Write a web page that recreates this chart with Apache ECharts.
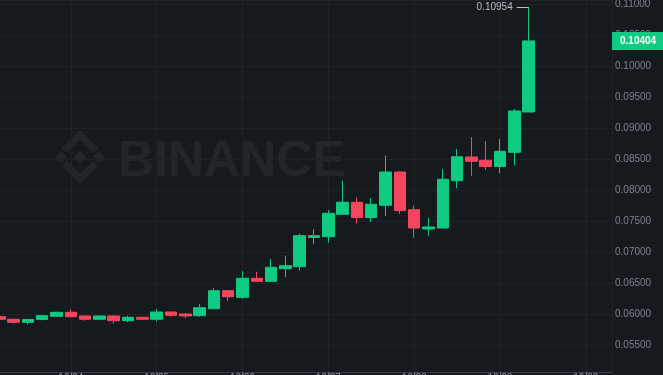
<!DOCTYPE html>
<html>
<head>
<meta charset="utf-8">
<script src="https://cdn.jsdelivr.net/npm/echarts@6/dist/echarts.min.js"></script>
<style>
html,body{margin:0;padding:0;background:#161a1e;}
#chart{width:663px;height:375px;}
</style>
</head>
<body>
<div id="chart"></div>
<script>
// candle positions (x index) and OHLC values
const xIndex = [1,2,3,4,5,6,7,8,9,10,11,12,13,14,15,16,17,18,19,20,21,22,23,24,25,26,27,28,29,30,31,32,33,34,35,36,37,38];
const opens  = [0.05957,0.05915,0.05866,0.05913,0.05963,0.06027,0.05968,0.05915,0.05968,0.05892,0.05947,0.05915,0.06032,0.06000,0.05973,0.06085,0.06376,0.06269,0.06576,0.06527,0.06731,0.06763,0.07234,0.07247,0.07608,0.07802,0.07556,0.07753,0.08290,0.07682,0.07371,0.07387,0.08150,0.08532,0.08479,0.08379,0.08608,0.09258];
const closes = [0.05915,0.05866,0.05912,0.05973,0.06027,0.05957,0.05915,0.05968,0.05892,0.05947,0.05915,0.06032,0.05979,0.05968,0.06102,0.06376,0.06279,0.06576,0.06527,0.06753,0.06779,0.07263,0.07263,0.07624,0.07802,0.07556,0.07770,0.08290,0.07667,0.07387,0.07403,0.08173,0.08537,0.08463,0.08379,0.08624,0.09274,0.10404];
const lows   = [0.05905,0.05844,0.05834,0.05898,0.05958,0.05947,0.05892,0.05910,0.05844,0.05871,0.05905,0.05882,0.05957,0.05931,0.05957,0.06080,0.06210,0.06242,0.06520,0.06520,0.06592,0.06698,0.07129,0.07150,0.07600,0.07456,0.07484,0.07581,0.07613,0.07229,0.07263,0.07376,0.08027,0.08230,0.08323,0.08269,0.08398,0.09258];
const highs  = [0.05965,0.05925,0.05920,0.05978,0.06035,0.06076,0.05972,0.05972,0.05972,0.05973,0.05952,0.06080,0.06036,0.06012,0.06161,0.06419,0.06380,0.06689,0.06682,0.06887,0.06940,0.07295,0.07366,0.07677,0.08150,0.07882,0.07871,0.08553,0.08300,0.07747,0.07548,0.08334,0.08661,0.08855,0.08790,0.08823,0.09306,0.10954];
const xTickLabels = ['10/24','10/25','10/26','10/27','10/28','10/29','10/30'];

const X_MIN = 0, X_MAX = 43.83;
const candles = xIndex.map((x, i) => [x, opens[i], closes[i], lows[i], highs[i]]);
const lastClose = closes[closes.length - 1];
const maxHigh = Math.max(...highs);
const maxIdx = highs.indexOf(maxHigh);

const chart = echarts.init(document.getElementById('chart'), null, {renderer: 'canvas'});

const wm = 'rgba(255,255,255,0.055)';
function diamond(cx, cy, r) { return [[cx, cy - r], [cx + r, cy], [cx, cy + r], [cx - r, cy]]; }

chart.setOption({
  backgroundColor: '#161a1e',
  animation: false,
  grid: {left: -15, right: 51, top: 0, bottom: 3, outerBoundsMode: 'none', containLabel: false},
  graphic: [
    {type: 'polygon', shape: {points: diamond(80, 157, 6.5)}, style: {fill: wm}, silent: true, z: 0},
    {type: 'polygon', shape: {points: diamond(61, 157, 6)}, style: {fill: wm}, silent: true, z: 0},
    {type: 'polygon', shape: {points: diamond(99, 157, 6)}, style: {fill: wm}, silent: true, z: 0},
    {type: 'polygon', shape: {points: [[80,130],[98,148],[93,153],[80,140],[67,153],[62,148]]}, style: {fill: wm}, silent: true, z: 0},
    {type: 'polygon', shape: {points: [[80,184],[98,166],[93,161],[80,174],[67,161],[62,166]]}, style: {fill: wm}, silent: true, z: 0},
    {type: 'text', left: 118, top: 137, style: {text: 'BINANCE', fill: wm, font: 'bold 50px "Liberation Sans", Arial, sans-serif'}, silent: true, z: 0}
  ],
  xAxis: {
    type: 'value',
    min: X_MIN,
    max: X_MAX,
    interval: 6,
    axisLine: {show: true, onZero: false, lineStyle: {color: '#3a3f47'}},
    axisTick: {show: true, length: 3, lineStyle: {color: '#5a606a'}},
    axisLabel: {
      color: '#848e9c', fontSize: 10, margin: 1,
      fontFamily: '"Liberation Sans", Arial, sans-serif',
      showMinLabel: false, showMaxLabel: false,
      formatter: v => (v > 0 && v % 6 === 0 && xTickLabels[v / 6 - 1]) ? xTickLabels[v / 6 - 1] : ''
    },
    splitLine: {show: true, lineStyle: {color: '#1f2328', width: 1}}
  },
  yAxis: {
    type: 'value',
    position: 'right',
    scale: true,
    min: 0.050645,
    max: 0.110645,
    splitNumber: 12,
    minInterval: 0.005,
    maxInterval: 0.005,
    axisLine: {show: true, lineStyle: {color: '#3a3f47'}},
    axisTick: {show: true, length: 4, lineStyle: {color: '#3a3f47'}},
    axisLabel: {
      color: '#7a828e', fontSize: 10, margin: 3,
      fontFamily: '"Liberation Sans", Arial, sans-serif',
      showMinLabel: false, showMaxLabel: false,
      formatter: v => v.toFixed(5)
    },
    splitLine: {show: true, lineStyle: {color: '#1f2328', width: 1}}
  },
  series: [{
    type: 'candlestick',
    data: candles,
    barWidth: 12,
    itemStyle: {
      color: '#0ecb81', color0: '#f6465d',
      borderColor: '#0ecb81', borderColor0: '#f6465d',
      borderWidth: 1
    },
    markLine: {
      silent: true,
      symbol: ['none', 'none'],
      animation: false,
      z: 10,
      data: [
        [
          {coord: [xIndex[maxIdx] - 0.83, maxHigh], lineStyle: {color: '#b7bdc6', width: 1, type: 'solid'},
           label: {show: true, position: 'start', distance: 4, color: '#b7bdc6', fontSize: 10,
                   fontFamily: '"Liberation Sans", Arial, sans-serif', formatter: () => maxHigh.toFixed(5)}},
          {coord: [xIndex[maxIdx], maxHigh]}
        ],
        [
          {coord: [X_MIN, lastClose], lineStyle: {color: 'rgba(0,0,0,0)', width: 0},
           label: {show: true, position: 'end', distance: 0, color: '#ffffff', fontSize: 10, fontWeight: 'bold',
                   fontFamily: '"Liberation Sans", Arial, sans-serif',
                   backgroundColor: '#0ecb81', padding: [4, 9, 4, 8],
                   formatter: () => lastClose.toFixed(5)}},
          {coord: [X_MAX, lastClose]}
        ]
      ]
    }
  }]
});
</script>
</body>
</html>
